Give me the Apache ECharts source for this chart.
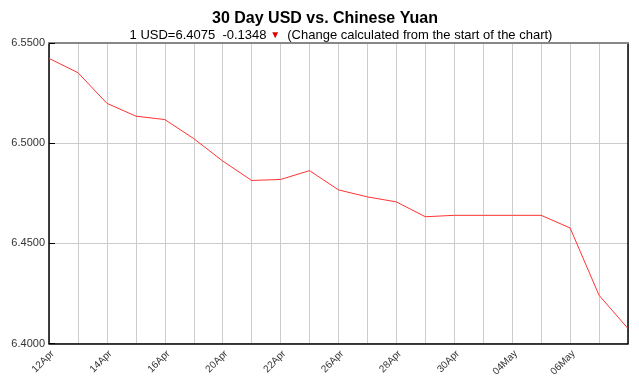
<!DOCTYPE html>
<html>
<head>
<meta charset="utf-8">
<script src="https://cdn.jsdelivr.net/npm/echarts@6/dist/echarts.min.js"></script>
<style>
html,body{margin:0;padding:0;background:#fff;}
#chart{width:639px;height:379px;}
</style>
</head>
<body>
<div id="chart"></div>
<script>
var categories = ['12Apr','13Apr','14Apr','15Apr','16Apr','19Apr','20Apr','21Apr','22Apr','23Apr','26Apr','27Apr','28Apr','29Apr','30Apr','03May','04May','05May','06May','07May','10May'];
var rates = [6.5423,6.5352,6.5199,6.5135,6.5118,6.5023,6.4911,6.4814,6.4819,6.4863,6.4767,6.4732,6.4707,6.4633,6.4640,6.4640,6.4640,6.4640,6.4577,6.4241,6.4075];
var tickLabels = ['12Apr','14Apr','16Apr','20Apr','22Apr','26Apr','28Apr','30Apr','04May','06May'];
var yTicks = [6.40, 6.45, 6.50, 6.55];
var titleText = '30 Day USD vs. Chinese Yuan';
var lastRate = '6.4075';
var change = '-0.1348';

var font = '"Liberation Sans", Arial, sans-serif';
var chart = echarts.init(document.getElementById('chart'), null, {renderer:'canvas'});
chart.setOption({
  animation: false,
  backgroundColor: '#fff',
  title: [{
    text: titleText,
    left: 320, top: 6, textAlign: 'center',
    textStyle: {fontFamily: font, fontSize: 16, fontWeight: 'bold', color: '#000'}
  },{
    text: '{t|1 USD=' + lastRate + '  ' + change + ' }{a|▼}{t|  (Change calculated from the start of the chart)}',
    left: 336, top: 24, textAlign: 'center',
    textStyle: {fontWeight: 'normal', rich: {
      t: {fontFamily: font, fontSize: 13, fontWeight: 'normal', color: '#000'},
      a: {fontFamily: font, fontSize: 10, fontWeight: 'normal', color: '#e00000'}
    }}
  }],
  grid: {left: 49, top: 43, right: 11, bottom: 33, containLabel: false},
  xAxis: [{
    type: 'category', data: categories, boundaryGap: false,
    axisLine: {show: true, lineStyle: {color: '#000', width: 1.5}},
    axisTick: {show: false},
    splitLine: {show: true, interval: 0, lineStyle: {color: '#ccc', width: 1}},
    axisLabel: {
      interval: function(i, v){ return tickLabels.indexOf(v) >= 0; },
      rotate: 45, verticalAlign: 'top', fontFamily: font, fontSize: 10, color: '#333', margin: 5
    }
  },{
    type: 'category', data: categories, boundaryGap: false, position: 'top',
    axisLine: {show: true, lineStyle: {color: '#888', width: 2}},
    axisTick: {show: false}, axisLabel: {show: false}, splitLine: {show: false}
  }],
  yAxis: [{
    type: 'value', min: yTicks[0], max: yTicks[yTicks.length-1], interval: 0.05,
    axisLine: {show: true, lineStyle: {color: '#000', width: 1.5}},
    axisTick: {show: true, inside: true, length: 6, lineStyle: {color: '#000'}},
    splitLine: {show: true, lineStyle: {color: '#ccc'}},
    axisLabel: {
      formatter: function(v){ return v.toFixed(4); },
      fontFamily: font, fontSize: 11, color: '#333', margin: 4
    }
  },{
    type: 'value', min: yTicks[0], max: yTicks[yTicks.length-1], interval: 0.05, position: 'right',
    axisLine: {show: true, lineStyle: {color: '#000', width: 1.5}},
    axisTick: {show: false}, axisLabel: {show: false}, splitLine: {show: false}
  }],
  series: [{
    type: 'line', data: rates, showSymbol: false, symbol: 'none',
    lineStyle: {color: '#ff3333', width: 1}
  }]
});
</script>
</body>
</html>
